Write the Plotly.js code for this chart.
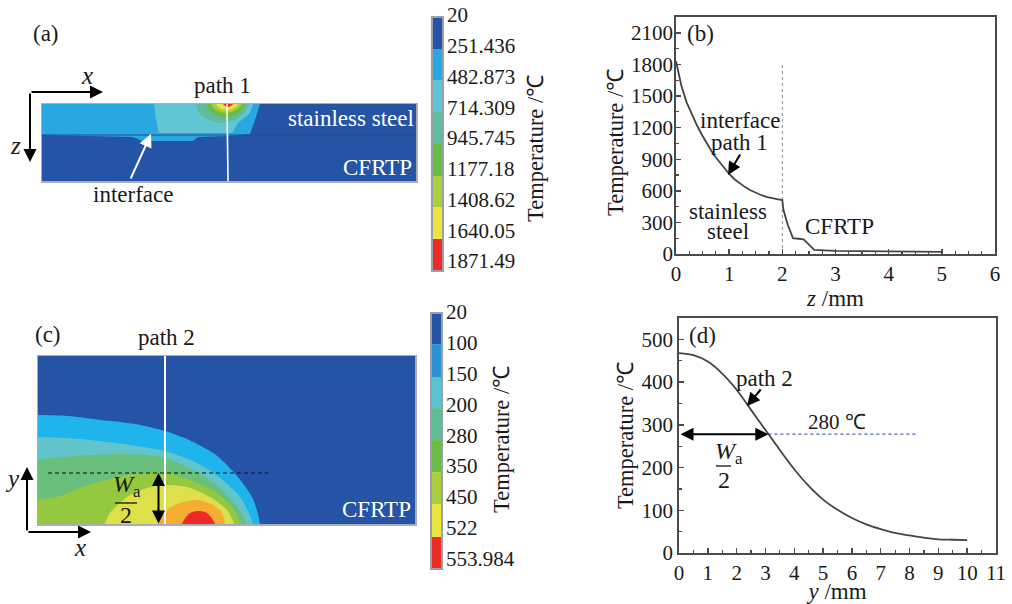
<!DOCTYPE html>
<html>
<head>
<meta charset="utf-8">
<script src="https://cdn.plot.ly/plotly-3.0.1.min.js"></script>
<style>html,body{margin:0;padding:0;background:#fff}#chart{width:1012px;height:604px}</style>
</head>
<body>
<div id="chart"></div>
<script>
// ---- Panel (b): temperature along path 1 ----
const pathOneDepth = [0,0.05,0.1,0.2,0.3,0.4,0.5,0.6,0.7,0.8,0.9,1,1.1,1.2,1.3,1.4,1.5,1.6,1.7,1.8,1.9,2,2.02,2.1,2.2,2.3,2.4,2.5,2.6,3,4,5];
const pathOneTemp  = [1830,1700,1600,1440,1320,1215,1120,1030,950,885,820,760,710,670,635,605,580,560,543,530,520,512,420,280,150,145,140,90,40,30,25,20];
// ---- Panel (d): temperature along path 2 ----
const pathTwoPos  = [0,0.5,1,1.5,2,2.5,3,3.5,4,4.5,5,5.5,6,6.5,7,7.5,8,8.5,9,9.5,10];
const pathTwoTemp = [468,463,448,420,382,335,288,241,196,157,125,101,82,67,56,47,41,36,32,31,30];

// ---- Panel (a): contour regions (x along the plate, z depth) ----
const aWidth = 374, aDepth = 77;
const aBlueX  = [0,218,213,208,186,156,151,100,91,51,0];
const aBlueZ  = [0,0,16,30,32,33,37,37,33,32,31];
const aTealX  = [112,114,117,190,196,208,211];
const aTealZ  = [0,16,29,29,19,9,0];
const aPaleX  = [154,157,167,181,195,203,207];
const aPaleZ  = [0,9,16,19,15,8,0];
const aGreenX = [164,170,184,197,203];
const aGreenZ = [0,9,13,9,0];
const aLimeX  = [169,174,184,194,200];
const aLimeZ  = [0,6,9,6,0];
const aYellowX = [174,178,185,192,196];
const aYellowZ = [0,4,6,4,0];
const aRedX   = [181,186,191];
const aRedZ   = [0,3,0];

// ---- Panel (c): contour regions (x along the seam, y across it) ----
const cWidth = 377, cHeight = 168;
const cBlueX   = [0,30,63,97,127,151,178,199,215,222];
const cBlueY   = [109,108,104,100,93,84,69,48,25,0];
const cTealX   = [0,42,92,127,159,182,202,215];
const cTealY   = [87,85,79,73,61,46,27,0];
const cSeaX    = [0,25,75,109,127,159,182,199,209];
const cSeaY    = [65,67,70,69,66,52,36,17,0];
const cGreenX  = [0,19,42,75,102,127,152,179,195,202];
const cGreenY  = [25,27,36,46,51,51,44,31,16,0];
const cYellowX = [67,72,89,109,127,149,172,189,196];
const cYellowY = [0,11,27,36,39,37,27,14,0];
const cOrangeX = [120,129,142,160,175,184,187];
const cOrangeY = [0,14,21,24,19,11,0];
const cRedX    = [144,152,160,169,177];
const cRedY    = [0,11,13,11,0];

// ---- Colour bars ----
const barALabels = ['20','251.436','482.873','714.309','945.745','1177.18','1408.62','1640.05','1871.49'];
const barCLabels = ['20','100','150','200','280','350','450','522','553.984'];
const barAColors = ['#2553a5','#29a7e0','#62c5d3','#5fbd9d','#69bd45','#a9cf3e','#ebe63f','#ee2a28'];
const barCColors = ['#2553a5','#2a93d5','#57c3d3','#5fbd95','#69bd45','#a9cf3e','#ebe63f','#ee2a28'];
const barAEdges = [0.065,1.106,2.114,3.154,4.195,5.236,6.244,7.285,8.325];
const barCEdges = [0.03,1.04,2.11,3.12,4.16,5.20,6.24,7.31,8.35];

const FONT = '"Liberation Serif", serif';
const INK = '#1a1a1a', FRAME = '#4a4a4a', EDGE = '#a9adb5';
const X = p => p/1012, Y = p => 1 - p/604;
const domX = (a,b) => [X(a),X(b)], domY = (top,bot) => [Y(bot),Y(top)];

const region = (x,y,color,xa,ya,smooth) => ({
  type:'scatter', mode:'lines', x, y, xaxis:xa, yaxis:ya, fill:'toself', fillcolor:color,
  line:{width:0,color:color,shape:smooth?'spline':'linear',smoothing:0.8}, hoverinfo:'skip', showlegend:false
});
// open-bottomed contours in (c) are continued beyond the frame, where they are clipped
const cRegion = (x,y,color) => region([-20].concat(x,x[x.length-1],-20), [y[0]].concat(y,-12,-12), color, 'x4','y4',true);
const cLobe   = (x,y,color) => region([x[0]].concat(x,x[x.length-1]), [-12].concat(y,-12), color, 'x4','y4',true);
const aLobe   = (x,z,color) => region([x[0]].concat(x,x[x.length-1]), [-6].concat(z,-6), color, 'x3','y3',true);
const bar = (edges,colors,xa,ya) => ({
  type:'bar', x:colors.map(()=>0), y:colors.map((c,i)=>edges[i+1]-edges[i]), base:edges.slice(0,-1), width:1,
  marker:{color:colors,line:{width:0}}, xaxis:xa, yaxis:ya, hoverinfo:'skip', showlegend:false
});

const traces = [
  // panel (b)
  {type:'scatter',mode:'lines',x:[2,2],y:[0,1800],xaxis:'x',yaxis:'y',line:{color:'#7d8794',width:1,dash:'dot'},hoverinfo:'skip',showlegend:false},
  {type:'scatter',mode:'lines',x:pathOneDepth,y:pathOneTemp,xaxis:'x',yaxis:'y',line:{color:'#444',width:1.8},name:'path 1',showlegend:false},
  // panel (d)
  {type:'scatter',mode:'lines',x:[3.1,8.25],y:[278,278],xaxis:'x2',yaxis:'y2',line:{color:'#4a5cc4',width:1.2,dash:'dot'},hoverinfo:'skip',showlegend:false},
  {type:'scatter',mode:'lines',x:pathTwoPos,y:pathTwoTemp,xaxis:'x2',yaxis:'y2',line:{color:'#444',width:1.8,shape:'spline',smoothing:0.8},name:'path 2',showlegend:false},
  // panel (a)
  region([0,aWidth,aWidth,0],[0,0,aDepth,aDepth],'#2553a5','x3','y3',false),
  region(aBlueX,aBlueZ,'#29a7e0','x3','y3',false),
  region(aTealX,aTealZ,'#62c5d3','x3','y3',false),
  aLobe(aPaleX,aPaleZ,'#5fbd9d'),
  aLobe(aGreenX,aGreenZ,'#69bd45'),
  aLobe(aLimeX,aLimeZ,'#a9cf3e'),
  aLobe(aYellowX,aYellowZ,'#ebe63f'),
  aLobe(aRedX,aRedZ,'#ee2a28'),
  {type:'scatter',mode:'lines',x:[0,aWidth],y:[31,31],xaxis:'x3',yaxis:'y3',line:{color:'#244a93',width:1.2},hoverinfo:'skip',showlegend:false},
  {type:'scatter',mode:'lines',x:[185,186],y:[0,aDepth],xaxis:'x3',yaxis:'y3',line:{color:'#ffffff',width:1.6},hoverinfo:'skip',showlegend:false},
  // panel (c)
  region([0,cWidth,cWidth,0],[0,0,cHeight,cHeight],'#2553a5','x4','y4',false),
  cRegion(cBlueX,cBlueY,'#1fb5ec'),
  cRegion(cTealX,cTealY,'#62c5cb'),
  cRegion(cSeaX,cSeaY,'#69bf7c'),
  cRegion(cGreenX,cGreenY,'#94c83f'),
  cLobe(cYellowX,cYellowY,'#dde04a'),
  cLobe(cOrangeX,cOrangeY,'#f5ae32'),
  cLobe(cRedX,cRedY,'#ee2a28'),
  {type:'scatter',mode:'lines',x:[127,127],y:[0,cHeight],xaxis:'x4',yaxis:'y4',line:{color:'#ffffff',width:2},hoverinfo:'skip',showlegend:false},
  {type:'scatter',mode:'lines',x:[10,230],y:[51,51],xaxis:'x4',yaxis:'y4',line:{color:'#111',width:1.2,dash:'4px,3px'},hoverinfo:'skip',showlegend:false},
  // colour bars
  bar(barAEdges,barAColors,'x5','y5'),
  bar(barCEdges,barCColors,'x6','y6')
];

const plotAxis = (domain,range,dtick,minor,extra) => Object.assign({
  domain, range, fixedrange:true, tickmode:'linear', tick0:0, dtick,
  ticks:'inside', ticklen:5, tickwidth:1.4, tickcolor:FRAME,
  minor:{ticks:'inside',ticklen:3,tickwidth:1.2,tickcolor:FRAME,dtick:minor,tick0:0,showgrid:false},
  showline:true, linecolor:FRAME, linewidth:1.8, mirror:true, showgrid:false, zeroline:false,
  tickfont:{family:FONT,size:21,color:INK}
},extra||{});
const mapAxis = (domain,range) => ({domain,range,fixedrange:true,showgrid:false,zeroline:false,showticklabels:false,ticks:'',
  showline:true,linecolor:EDGE,linewidth:1.5,mirror:true});
const barXAxis = domain => ({domain,range:[-0.5,0.5],fixedrange:true,visible:false});
const barYAxis = (domain,range,anchor,labels) => ({domain,range,anchor,side:'right',fixedrange:true,showgrid:false,zeroline:false,showline:false,
  tickmode:'array',tickvals:labels.map((l,i)=>i),ticktext:labels,ticks:'',ticklabelstandoff:3,
  tickfont:{family:FONT,size:21,color:INK}});

const text = (t,x,y,o) => Object.assign({text:t,x:X(x),y:Y(y),xref:'paper',yref:'paper',showarrow:false,xanchor:'center',yanchor:'middle',
  font:{family:FONT,size:(o&&o.size)||23,color:(o&&o.color)||INK}},o&&o.angle?{textangle:o.angle}:{});
const arrow = (x0,y0,x1,y1,o) => Object.assign({text:'',x:X(x1),y:Y(y1),xref:'paper',yref:'paper',axref:'pixel',ayref:'pixel',ax:x0-x1,ay:y0-y1,
  showarrow:true,arrowhead:2,arrowsize:1.3,arrowwidth:2,arrowcolor:'#000'},o||{});
const TITLE = 22.5;

const annotations = [
  // (a)
  text('(a)',46,33), text('<i>x</i>',87,76,{size:25}), text('<i>z</i>',16,145,{size:25}), text('path 1',222,86),
  text('stainless steel',351,118,{color:'#ffffff'}), text('CFRTP',377,167,{color:'#ffffff'}), text('interface',133,195),
  arrow(30,92,103,92), arrow(30,92,30,162),
  arrow(130,180,151,134,{arrowcolor:'#ffffff'}),
  text('Temperature /℃',535,149,{size:TITLE,angle:-90}),
  // (c)
  text('(c)',48,334), text('path 2',166,337), text('<i>y</i>',12,478,{size:25}), text('<i>x</i>',80,547,{size:25}),
  text('CFRTP',376,509,{color:'#ffffff'}),
  arrow(27,532,27,467), arrow(27,532,91,532),
  arrow(158.5,525,158.5,473,{arrowside:'end+start',startarrowhead:2,startarrowsize:1.3}),
  text('<i>W</i><sub>a</sub>',127,486,{size:24}), text('2',126,515,{size:24}),
  text('Temperature /℃',502,440,{size:TITLE,angle:-90}),
  // (b)
  text('(b)',700,33), text('interface',740,121), text('path 1',739,143), text('stainless',728,211), text('steel',728,232), text('CFRTP',839,226),
  arrow(741,153,728,175),
  text('Temperature /℃',616,143,{size:TITLE,angle:-90}),
  // (d)
  text('(d)',702,335), text('path 2',764,378), text('280 ℃',837,422,{size:21}),
  arrow(762,388,747,406),
  {text:'',x:3.1,y:278,xref:'x2',yref:'y2',axref:'x2',ayref:'y2',ax:0,ay:278,showarrow:true,arrowhead:2,arrowsize:1.3,arrowwidth:2,arrowcolor:'#000',
   arrowside:'end+start',startarrowhead:2,startarrowsize:1.3},
  text('<i>W</i><sub>a</sub>',729,453,{size:24}), text('2',724,480,{size:24})
];

const rule = (x0,y0,x1,y1,w) => ({type:'line',xref:'paper',yref:'paper',x0:X(x0),y0:Y(y0),x1:X(x1),y1:Y(y1),line:{color:'#111',width:w}});
const box = (x0,y0,x1,y1) => ({type:'rect',xref:'paper',yref:'paper',x0:X(x0),y0:Y(y0),x1:X(x1),y1:Y(y1),fillcolor:'rgba(0,0,0,0)',line:{color:'#9aa0a8',width:2}});

const layout = {
  width:1012, height:604, margin:{l:0,r:0,t:0,b:0,pad:0}, autosize:false,
  paper_bgcolor:'#fff', plot_bgcolor:'rgba(0,0,0,0)', showlegend:false, barmode:'overlay',
  font:{family:FONT,size:20,color:INK},
  // (b)
  xaxis: plotAxis(domX(676,995),[0,6],1,0.25,{anchor:'y',title:{text:'<i>z</i> /mm',font:{family:FONT,size:23,color:INK},standoff:0}}),
  yaxis: plotAxis(domY(17,254),[0,2250],300,150,{anchor:'x',ticklabelstandoff:-3}),
  // (d)
  xaxis2: plotAxis(domX(679,996),[0,11],1,0.5,{anchor:'y2',title:{text:'<i>y</i> /mm',font:{family:FONT,size:23,color:INK},standoff:2}}),
  yaxis2: plotAxis(domY(318,553),[0,550],100,50,{anchor:'x2',title:{text:'Temperature /℃',font:{family:FONT,size:TITLE,color:INK},standoff:2}}),
  // (a)
  xaxis3: Object.assign(mapAxis(domX(42,416),[0,aWidth]),{anchor:'y3'}),
  yaxis3: Object.assign(mapAxis(domY(104,181),[aDepth,0]),{anchor:'x3'}),
  // (c)
  xaxis4: Object.assign(mapAxis(domX(38,415),[0,cWidth]),{anchor:'y4'}),
  yaxis4: Object.assign(mapAxis(domY(356,524),[0,cHeight]),{anchor:'x4'}),
  // colour bars
  xaxis5: Object.assign(barXAxis(domX(432,443)),{anchor:'y5'}),
  yaxis5: barYAxis(domY(5,271),[8.325,-0.325],'x5',barALabels),
  xaxis6: Object.assign(barXAxis(domX(431,442)),{anchor:'y6'}),
  yaxis6: barYAxis(domY(305,569),[8.35,-0.23],'x6',barCLabels),
  annotations,
  shapes:[
    rule(115,503,137,503,1.3), rule(716,466,731,466,1.3),
    box(432,17,443,271), box(431,313,442,569)
  ]
};

Plotly.newPlot('chart',traces,layout,{displayModeBar:false,staticPlot:true});
</script>
</body>
</html>
